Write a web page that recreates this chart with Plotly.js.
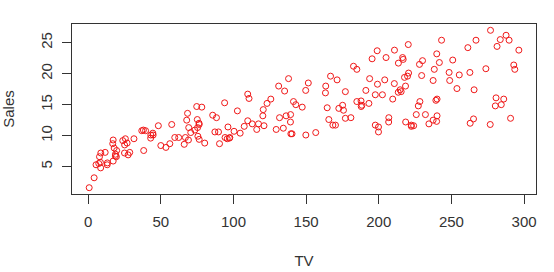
<!DOCTYPE html>
<html><head><meta charset="utf-8">
<script src="https://cdn.plot.ly/plotly-3.0.1.min.js"></script>
<style>html,body{margin:0;padding:0;background:#fff}#c{width:554px;height:272px}</style>
</head><body><div id="c"></div>
<script>
var tv = [230.1,44.5,17.2,151.5,180.8,8.7,57.5,120.2,8.6,199.8,66.1,214.7,23.8,97.5,204.1,195.4,67.8,281.4,69.2,147.3,
218.4,237.4,13.2,228.3,62.3,262.9,142.9,240.1,248.8,70.6,292.9,112.9,97.2,265.6,95.7,290.7,266.9,74.7,43.1,228,
202.5,177,293.6,206.9,25.1,175.1,89.7,239.9,227.2,66.9,199.8,100.4,216.4,182.6,262.7,198.9,7.3,136.2,210.8,210.7,
53.5,261.3,239.3,102.7,131.1,69,31.5,139.3,237.4,216.8,199.1,109.8,26.8,129.4,213.4,16.9,27.5,120.5,5.4,116,
76.4,239.8,75.3,68.4,213.5,193.2,76.3,110.7,88.3,109.8,134.3,28.6,217.7,250.9,107.4,163.3,197.6,184.9,289.7,135.2,
222.4,296.4,280.2,187.9,238.2,137.9,25,90.4,13.1,255.4,225.8,241.7,175.7,209.6,78.2,75.1,139.2,76.4,125.7,19.4,
141.3,18.8,224,123.1,229.5,87.2,7.8,80.2,220.3,59.6,0.7,265.2,8.4,219.8,36.9,48.3,25.6,273.7,43,184.9,
73.4,193.7,220.5,104.6,96.2,140.3,240.1,243.2,38,44.7,280.7,121,197.6,171.3,187.8,4.1,93.9,149.8,11.7,131.7,
172.5,85.7,188.4,163.5,117.2,234.5,17.9,206.8,215.4,284.3,50,164.5,19.6,168.4,222.4,276.9,248.4,170.2,276.7,165.6,
156.6,218.5,56.2,287.6,253.8,205,139.5,191.1,286,18.7,39.5,75.5,17.2,166.8,149.7,38.2,94.2,177,283.6,232.1];
var sales = [22.1,10.4,9.3,18.5,12.9,7.2,11.8,13.2,4.8,10.6,8.6,17.4,9.2,9.7,19,22.4,12.5,24.4,11.3,14.6,
18,12.5,5.6,15.5,9.7,12,15,15.9,18.9,10.5,21.4,11.9,9.6,17.4,9.5,12.8,25.4,14.7,10.1,21.5,
16.6,17.1,20.7,12.9,8.5,14.9,10.6,23.2,14.8,9.7,11.4,10.7,22.6,21.2,20.2,23.7,5.5,13.2,23.8,18.4,
8.1,24.2,15.7,14,18,9.3,9.5,13.4,18.9,22.3,18.3,12.4,8.8,11,17,8.7,6.9,14.2,5.3,11,
11.8,12.3,11.3,13.6,21.7,15.2,12,16,12.9,16.7,11.2,7.3,19.4,22.2,11.5,16.9,11.7,15.5,25.4,17.2,
11.7,23.8,14.8,14.7,20.7,19.2,7.2,8.7,5.3,19.8,13.4,21.8,14.1,15.9,14.6,12.6,12.2,9.4,15.9,6.6,
15.5,7,11.6,15.2,19.7,10.6,6.6,8.8,24.7,9.7,1.6,12.7,5.7,19.6,10.8,11.6,9.5,20.8,9.6,20.7,
10.9,19.2,20.1,10.4,11.4,10.3,13.2,25.4,10.9,10.1,16.1,11.6,16.6,19,15.6,3.2,15.3,10.1,7.3,12.9,
14.4,13.3,14.9,18,11.9,11.9,8,12.2,17.1,15,8.4,14.5,7.6,11.7,11.5,27,20.2,11.7,11.8,12.6,
10.5,12.2,8.7,26.2,17.6,22.6,10.3,17.3,15.9,6.7,10.8,9.9,5.9,19.6,17.3,7.6,9.7,12.8,25.5,13.4];
var xTicks = [0,50,100,150,200,250,300];
var yTicks = [5,10,15,20,25];

var font = {family:'Liberation Sans, Arial, sans-serif', size:15, color:'#333'};
Plotly.newPlot('c', [{
  x: tv, y: sales, type:'scatter', mode:'markers',
  marker:{symbol:'circle-open', size:6, color:'#f01818', line:{width:1, color:'#f01818'}},
  hoverinfo:'skip'
}], {
  width:554, height:272,
  margin:{l:72, r:18, t:24, b:78},
  paper_bgcolor:'#fff', plot_bgcolor:'#fff',
  showlegend:false,
  font: font,
  xaxis:{range:[-11.13,308.2], tickvals:xTicks, ticktext:xTicks.map(String), showgrid:false, zeroline:false,
    showline:true, mirror:true, linecolor:'#333', linewidth:1, ticks:'outside', ticklen:9, tickcolor:'#333',
    ticklabelstandoff:5,
    tickfont:font, title:{text:'TV', font:font, standoff:26}, automargin:false},
  yaxis:{range:[0.584,28.016], tickvals:yTicks, ticktext:yTicks.map(String), showgrid:false, zeroline:false,
    showline:true, mirror:true, linecolor:'#333', linewidth:1, ticks:'outside', ticklen:9, tickcolor:'#333',
    tickangle:-90, ticklabelstandoff:4,
    tickfont:font, title:{text:'Sales', font:font, standoff:24}, automargin:false}
}, {staticPlot:true, displayModeBar:false});
</script></body></html>
